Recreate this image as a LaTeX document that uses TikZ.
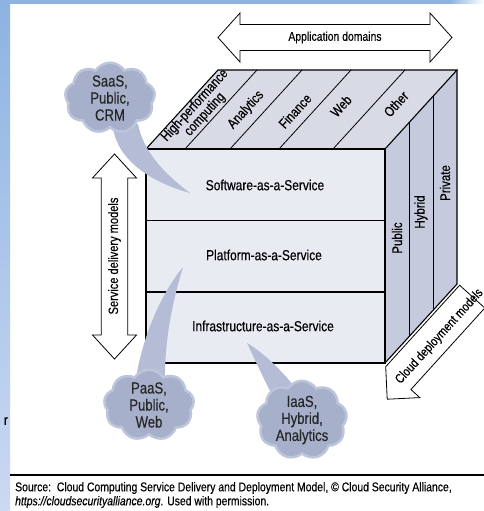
\documentclass[tikz,border=0pt]{standalone}
\usepackage{fontspec}
\setmainfont{Liberation Sans}[FakeStretch=0.82,FakeBold=0.35]
\usetikzlibrary{shapes.symbols,calc}

\definecolor{framebl}{HTML}{8DB3E2}
\definecolor{framelt}{HTML}{CBD9F3}
\definecolor{frontcol}{HTML}{E9EBF3}
\definecolor{topcol}{HTML}{D8DBE6}
\definecolor{sidecol}{HTML}{C5CBDC}
\definecolor{cloudcol}{HTML}{A6B0CB}
\definecolor{cloudrim}{HTML}{BDC5DA}
\definecolor{tailcol}{HTML}{B4BDD5}

\newcommand{\facefont}{\fontsize{14.6}{17}\selectfont}
\newcommand{\labfont}{\fontsize{14}{13.5}\selectfont}
\newcommand{\srcfont}{\fontsize{12.7}{13}\selectfont}

\begin{document}
\begin{tikzpicture}[x=1pt,y=-1pt,
    cubeline/.style={line width=1.1pt},
    facelab/.style={font=\facefont,inner sep=0pt},
    toplab/.style={font=\labfont,align=center,rotate=47.7,inner sep=0pt},
    sidelab/.style={font=\fontsize{14}{14}\selectfont,rotate=90,inner sep=0pt},
    bigarrow/.style={draw,fill=white,line width=0.8pt,line join=miter},
    cloudbub/.style={cloud,cloud puffs=9,cloud puff arc=115,cloud ignores aspect,
        minimum width=90,minimum height=66,inner sep=0pt,fill=cloudcol,draw=cloudrim,
        line width=2.5pt,align=center,font=\fontsize{16}{17}\selectfont,text=black!85},
    tail/.style={fill=tailcol}]
    \useasboundingbox (0,0) rectangle (484,511);
    \clip (0,0) rectangle (484,511);
    % frame of the slide
    \fill[white] (0,0) rectangle (484,511);
    \shade[top color=framebl,bottom color=framelt] (0,0) rectangle (10,511);
    \fill[framebl] (0,0) rectangle (450,4);
    \shade[left color=framebl,right color=white] (450,0) rectangle (484,4);
    \node[font=\fontsize{14}{14}\selectfont,anchor=east,inner sep=0pt] (cutr) at (8,421) {r};

    % cube
    \coordinate (ftl) at (146,149);
    \coordinate (ftr) at (385,149);
    \coordinate (fbr) at (385,363);
    \coordinate (fbl) at (146,363);
    \fill[frontcol] (ftl) rectangle (fbr);
    \fill[topcol] (ftl) -- (ftr) -- ++(72,-79) -- ($(ftl)+(72,-79)$) -- cycle;
    \fill[sidecol] (ftr) -- ++(72,-79) -- ($(fbr)+(72,-79)$) -- (fbr) -- cycle;
    \draw[cubeline] (ftl) rectangle (fbr);
    \draw[cubeline] (146,220.5) -- (385,220.5);
    \draw[cubeline] (146,292) -- (385,292);
    \draw[cubeline] (ftl) -- ++(72,-79) -- ($(ftr)+(72,-79)$) -- (ftr);
    \draw[cubeline] ($(ftr)+(72,-79)$) -- ($(fbr)+(72,-79)$) -- (fbr);
    \foreach \x in {185,230,279,333}
        \draw[line width=0.8pt] (\x,149) -- ++(72,-79);
    \draw[line width=0.8pt] (409,122.7) -- (409,336.7);
    \draw[line width=0.8pt] (433,96.3) -- (433,310.3);

    \node[facelab] (saaslab) at (265,185) {Software-as-a-Service};
    \node[facelab] (paaslab) at (264,255) {Platform-as-a-Service};
    \node[facelab] (iaaslab) at (263,326) {Infrastructure-as-a-Service};

    \node[toplab] (hpc) at (200,110) {High-performance\\computing};
    \node[toplab] (analytics) at (246,110) {Analytics};
    \node[toplab] (finance) at (295,111) {Finance};
    \node[toplab] (web) at (341,106) {Web};
    \node[toplab] (other) at (396,104) {Other};

    \node[sidelab] (public) at (397,238) {Public};
    \node[sidelab] (hybrid) at (421,212) {Hybrid};
    \node[sidelab] (private) at (445,183) {Private};

    % arrows
    \draw[bigarrow] (218,37.5) -- (240,13) -- (240,24.5) -- (430,24.5) -- (430,13)
        -- (452,37.5) -- (430,62) -- (430,50.5) -- (240,50.5) -- (240,62) -- cycle;
    \node[font=\fontsize{12.7}{13}\selectfont] (appdom) at (335,37.5) {Application domains};

    \draw[bigarrow] (114.5,154) -- (136.5,178) -- (127.8,178) -- (127.8,335) -- (136.5,335)
        -- (114.5,359) -- (92.5,335) -- (101.2,335) -- (101.2,178) -- (92.5,178) -- cycle;
    \node[font=\fontsize{13.5}{14}\selectfont,rotate=90] (delivery) at (114.5,256) {Service delivery models};

    \draw[bigarrow] (387.2,399.2) -- (385.7,366.7) -- (459.6,285.2) -- (484.8,308)
        -- (410.9,389.5) -- (419.8,397.6) -- cycle;
    \node[font=\fontsize{13}{13}\selectfont,rotate=47.7] (deploy) at (439.5,336.5) {Cloud deployment models};

    % callouts
    \coordinate (saasc) at (110,98);
    \coordinate (saastip) at (190,193);
    \coordinate (paasc) at (149,405);
    \coordinate (paastip) at (183,267);
    \coordinate (iaasc) at (302,420);
    \coordinate (iaastip) at (247,343);
    \fill[tail] ($(saasc)+(3,30)$) .. controls (118,160) and (150,182) .. (saastip)
        .. controls (162,172) and (143,150) .. ($(saasc)+(28,26)$) -- cycle;
    \fill[tail] ($(paasc)+(-14,-20)$) .. controls (141,340) and (160,295) .. (paastip)
        .. controls (173,300) and (164,340) .. ($(paasc)+(16,-20)$) -- cycle;
    \fill[tail] ($(iaasc)+(-30,-25)$) .. controls (262,375) and (254,358) .. (iaastip)
        .. controls (262,352) and (280,368) .. ($(iaasc)+(-5,-30)$) -- cycle;
    \node[cloudbub] (saas) at (saasc) {SaaS,\\Public,\\CRM};
    \node[cloudbub] (paas) at (paasc) {PaaS,\\Public,\\Web};
    \node[cloudbub] (iaas) at (iaasc) {IaaS,\\Hybrid,\\Analytics};

    % source line
    \draw[line width=1.3pt] (10,475) -- (484,475);
    \node[font=\srcfont,anchor=west,inner sep=0pt] (src1) at (15,488)
        {Source:\ \ Cloud Computing Service Delivery and Deployment Model, © Cloud Security Alliance,};
    \node[font=\srcfont,anchor=west,inner sep=0pt] (src2) at (15,502)
        {\textit{https://cloudsecurityalliance.org}. Used with permission.};
\end{tikzpicture}
\end{document}
